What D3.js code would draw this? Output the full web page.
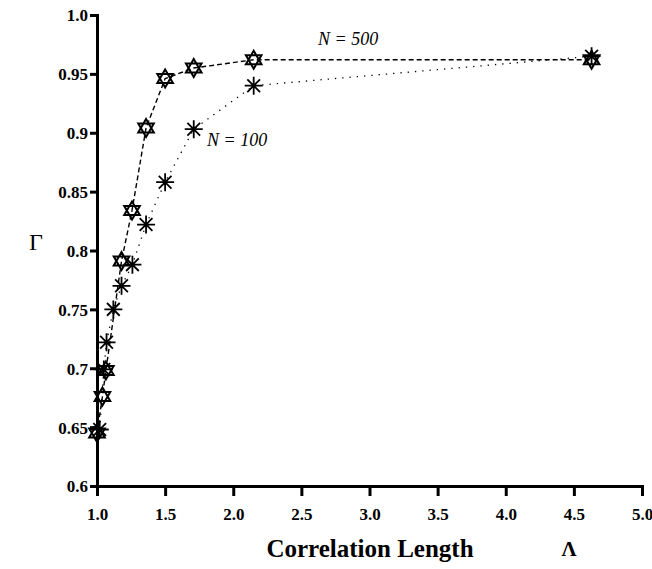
<!DOCTYPE html>
<html>
<head>
<meta charset="utf-8">
<script src="https://cdn.jsdelivr.net/npm/d3@7"></script>
<style>
  body { margin: 0; background: #fff; }
</style>
</head>
<body>
<div id="chart"></div>
<script>
// data
var n500X = [1.0, 1.04, 1.065, 1.18, 1.257, 1.36, 1.5, 1.71, 2.15, 4.63];
var n500Y = [0.645, 0.676, 0.698, 0.791, 0.834, 0.904, 0.946, 0.955, 0.962, 0.962];
var n100X = [1.02, 1.05, 1.07, 1.12, 1.18, 1.26, 1.36, 1.5, 1.71, 2.15, 4.63];
var n100Y = [0.648, 0.699, 0.722, 0.750, 0.770, 0.788, 0.822, 0.858, 0.903, 0.940, 0.965];
var xTicks = [1.0, 1.5, 2.0, 2.5, 3.0, 3.5, 4.0, 4.5, 5.0];
var yTicks = [0.6, 0.65, 0.7, 0.75, 0.8, 0.85, 0.9, 0.95, 1.0];

var SERIF = "'Liberation Serif', 'Times New Roman', serif";
var W = 652, H = 569;
var svg = d3.select("#chart").append("svg")
  .attr("width", W).attr("height", H);

var x = d3.scaleLinear().domain([1, 5]).range([97, 642]);
var y = d3.scaleLinear().domain([0.6, 1.0]).range([486, 15]);

// axes
var xAxis = d3.axisBottom(x).tickValues(xTicks).tickSize(10).tickPadding(9)
  .tickFormat(d3.format(".1f"));
var gx = svg.append("g").attr("transform", "translate(0," + y(0.6) + ")").call(xAxis);

var yAxis = d3.axisLeft(y).tickValues(yTicks).tickSize(7).tickPadding(2)
  .tickFormat(function(d) { return d === 1 ? "1.0" : String(d); });
var gy = svg.append("g").attr("transform", "translate(" + x(1) + ",0)").call(yAxis);

[gx, gy].forEach(function(g) {
  g.attr("font-family", SERIF).attr("font-size", 17);
  g.select(".domain").attr("stroke", "#000").attr("stroke-width", 3);
  g.selectAll(".tick line").attr("stroke", "#000").attr("stroke-width", 3);
  g.selectAll(".tick text")
    .style("font-family", SERIF)
    .style("font-weight", "bold")
    .style("font-size", "17px")
    .attr("fill", "#000");
});
gx.selectAll(".tick text").attr("dy", "0.9em");
gy.selectAll(".tick text").attr("dy", "0.35em");

// lines
var line = d3.line().x(function(d) { return x(d[0]); }).y(function(d) { return y(d[1]); });
var d500 = n500X.map(function(v, i) { return [v, n500Y[i]]; });
var d100 = n100X.map(function(v, i) { return [v, n100Y[i]]; });

svg.append("path").datum(d100).attr("d", line)
  .attr("fill", "none").attr("stroke", "#000").attr("stroke-width", 1.3)
  .attr("stroke-dasharray", "1.3,6");
svg.append("path").datum(d500).attr("d", line)
  .attr("fill", "none").attr("stroke", "#000").attr("stroke-width", 1.4)
  .attr("stroke-dasharray", "5,3");

// star of David markers
function davidPath(r) {
  var up = [], dn = [];
  for (var k = 0; k < 3; k++) {
    var a = -Math.PI / 2 + k * 2 * Math.PI / 3;
    up.push([r * Math.cos(a), r * Math.sin(a)]);
    dn.push([r * Math.cos(a + Math.PI), r * Math.sin(a + Math.PI)]);
  }
  return "M" + up.join("L") + "Z M" + dn.join("L") + "Z";
}
svg.append("g").selectAll("path").data(d500).join("path")
  .attr("transform", function(d) { return "translate(" + x(d[0]) + "," + y(d[1]) + ")"; })
  .attr("d", davidPath(9))
  .attr("fill", "none").attr("stroke", "#000").attr("stroke-width", 2);

// asterisk markers
function asteriskPath(r) {
  var s = "";
  for (var k = 0; k < 4; k++) {
    var a = k * Math.PI / 4;
    s += "M" + (-r * Math.cos(a)) + "," + (-r * Math.sin(a)) + "L" + (r * Math.cos(a)) + "," + (r * Math.sin(a));
  }
  return s;
}
svg.append("g").selectAll("path").data(d100).join("path")
  .attr("transform", function(d) { return "translate(" + x(d[0]) + "," + y(d[1]) + ")"; })
  .attr("d", asteriskPath(9))
  .attr("fill", "none").attr("stroke", "#000").attr("stroke-width", 1.8);

// series labels
svg.append("text").attr("x", 318).attr("y", 45).style("font-family", SERIF)
  .style("font-style", "italic").style("font-size", "18px").text("N = 500");
svg.append("text").attr("x", 207).attr("y", 146).style("font-family", SERIF)
  .style("font-style", "italic").style("font-size", "18px").text("N = 100");

// axis titles
svg.append("text").attr("x", 370).attr("y", 557).attr("text-anchor", "middle").style("font-family", SERIF)
  .style("font-weight", "bold").style("font-size", "25px").text("Correlation Length");
svg.append("text").attr("x", 569).attr("y", 556).attr("text-anchor", "middle").style("font-family", SERIF)
  .style("font-weight", "bold").style("font-size", "21px").text("Λ");
svg.append("text").attr("x", 36).attr("y", 250).attr("text-anchor", "middle").style("font-family", SERIF)
  .style("font-size", "24px").text("Γ");
</script>
</body>
</html>
